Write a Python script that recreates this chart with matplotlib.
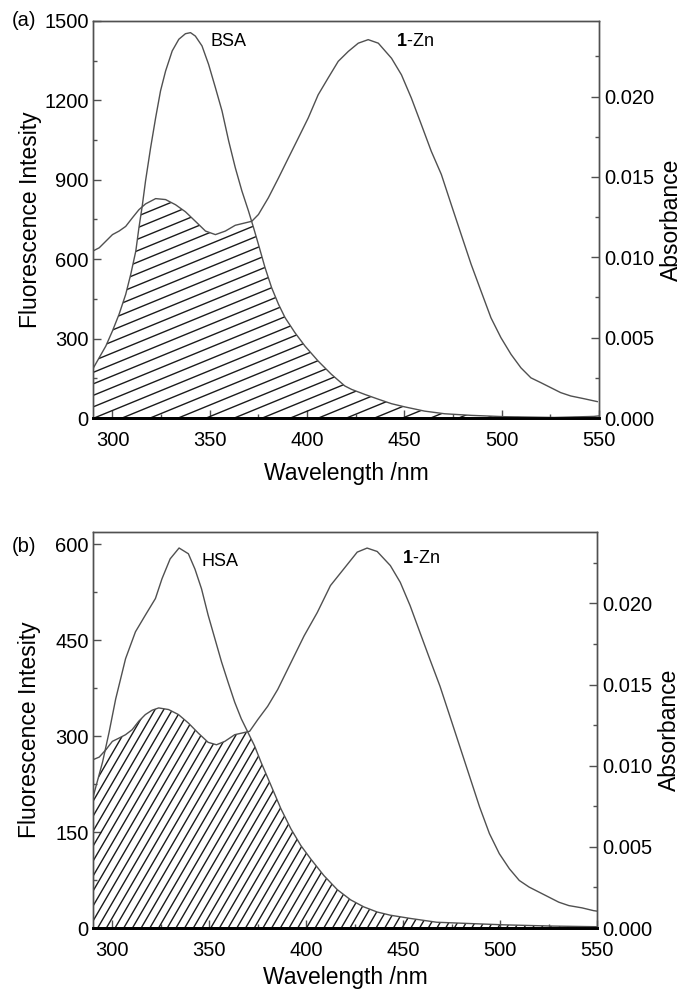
import numpy as np
import matplotlib
matplotlib.use("Agg")
import matplotlib.pyplot as plt
from matplotlib.collections import LineCollection
from matplotlib.ticker import MultipleLocator

plt.rcParams['font.family'] = ['Liberation Sans', 'DejaVu Sans']
plt.rcParams['mathtext.fontset'] = 'custom'
plt.rcParams['mathtext.rm'] = 'Liberation Sans'
plt.rcParams['mathtext.bf'] = 'Liberation Sans:bold'

# ---------------- Panel (a) data ----------------
bsa_wl = [289.8, 293.2, 296.6, 300.0, 303.4, 306.8, 309.4, 312.0, 313.6, 315.3, 317.0,
          319.6, 322.2, 324.7, 327.3, 330.7, 334.1, 337.5, 340.1, 342.6, 346.0, 349.4,
          352.9, 356.3, 359.7, 363.1, 366.5, 369.9, 372.5, 375.0, 378.4, 381.8, 385.3,
          388.7, 393.8, 398.9, 405.7, 412.5, 419.4, 422.9, 429.7, 436.6, 443.4, 450.2,
          460.4, 470.7, 484.3, 501.4, 526.9, 547.4, 550.0]
bsa_fl = [184, 228, 272, 329, 392, 467, 543, 631, 719, 801, 896,
          1021, 1135, 1236, 1311, 1387, 1431, 1452, 1456, 1443, 1406, 1336,
          1248, 1160, 1047, 946, 858, 782, 719, 656, 568, 492, 430,
          379, 322, 272, 215, 165, 121, 108, 89, 71, 54, 42,
          26, 16, 10, 5, 2, 6, 8]

zn_a_wl = [289.8, 293.2, 296.6, 300.0, 303.4, 306.8, 310.2, 313.6, 317.0, 322.2, 327.3,
           332.4, 337.5, 342.6, 347.8, 352.9, 358.0, 363.1, 368.2, 371.6, 375.0, 380.1,
           385.3, 390.4, 395.5, 400.6, 405.7, 410.8, 416.0, 421.2, 426.3, 431.4, 436.6,
           443.4, 448.5, 453.6, 458.7, 463.8, 469.0, 474.1, 479.2, 484.3, 489.4, 494.5,
           499.6, 504.8, 509.9, 515.0, 520.1, 525.2, 530.3, 535.5, 542.3, 549.1]
zn_a_abs = [0.01038, 0.01059, 0.01100, 0.01141, 0.01163, 0.01192, 0.01245, 0.01296,
            0.01332, 0.01365, 0.01359, 0.01327, 0.01283, 0.01224, 0.01163, 0.01141,
            0.01163, 0.01199, 0.01214, 0.01224, 0.01266, 0.01370, 0.01493, 0.01618,
            0.01742, 0.01867, 0.02011, 0.02115, 0.02219, 0.02281, 0.02332, 0.02354,
            0.02332, 0.02238, 0.02135, 0.01990, 0.01826, 0.01660, 0.01515, 0.01327,
            0.01141, 0.00956, 0.00789, 0.00623, 0.00500, 0.00396, 0.00312, 0.00250,
            0.00220, 0.00189, 0.00158, 0.00137, 0.00120, 0.00102]

# ---------------- Panel (b) data ----------------
hsa_wl = [289.8, 294.9, 298.3, 301.7, 306.8, 311.9, 317.0, 322.2, 325.6, 329.8, 334.4,
          339.2, 342.6, 346.0, 349.4, 352.9, 356.3, 359.7, 363.1, 366.5, 369.9, 373.3,
          376.7, 381.8, 387.0, 392.1, 397.2, 402.3, 409.1, 416.0, 422.9, 429.7, 436.6,
          443.4, 453.6, 467.3, 484.3, 501.4, 526.9, 550.0]
hsa_fl = [202, 259, 306, 358, 421, 463, 489, 515, 546, 577, 594,
          585, 561, 530, 489, 452, 416, 384, 353, 327, 306, 285,
          259, 223, 186, 155, 129, 108, 82, 60, 44, 33, 25,
          20, 15, 9, 7, 5, 3, 2]

zn_b_wl = [289.8, 293.2, 296.6, 300.0, 303.4, 306.8, 310.2, 313.6, 317.0, 320.5, 323.9,
           329.0, 334.1, 339.2, 344.3, 349.4, 353.7, 358.0, 363.1, 368.2, 370.8, 375.0,
           380.1, 385.3, 392.1, 398.9, 405.7, 412.5, 419.4, 426.3, 431.4, 436.6, 443.4,
           448.5, 453.6, 458.7, 463.8, 469.0, 474.1, 479.2, 484.3, 489.4, 494.5, 499.6,
           504.8, 509.9, 515.0, 520.1, 525.2, 530.3, 535.5, 542.3, 548.2, 550.0]
zn_b_abs = [0.01036, 0.01053, 0.01098, 0.01150, 0.01170, 0.01191, 0.01222, 0.01274,
            0.01315, 0.01342, 0.01356, 0.01346, 0.01315, 0.01263, 0.01201, 0.01144,
            0.01129, 0.01150, 0.01191, 0.01205, 0.01212, 0.01284, 0.01366, 0.01470,
            0.01635, 0.01800, 0.01944, 0.02110, 0.02213, 0.02316, 0.02341, 0.02320,
            0.02233, 0.02130, 0.01986, 0.01820, 0.01655, 0.01490, 0.01305, 0.01119,
            0.00933, 0.00747, 0.00582, 0.00458, 0.00365, 0.00293, 0.00252, 0.00221,
            0.00190, 0.00159, 0.00138, 0.00124, 0.00107, 0.00104]

x_ticks = [300, 350, 400, 450, 500, 550]
abs_ticks = [0.000, 0.005, 0.010, 0.015, 0.020]
abs_tick_labels = ['0.000', '0.005', '0.010', '0.015', '0.020']

LINE_C = '#505050'

fig = plt.figure(figsize=(6.82, 9.93), dpi=100)


def panel(rect, fl_wl, fl, ab_wl, ab, fl_max, fl_major, ab_max, label, label_y,
          fl_name, fl_txt, zn_txt, hatch_slope, hatch_step, hatch_dir, xlab_pad,
          ylab_pad):
    ax = fig.add_axes(rect)
    ax2 = ax.twinx()
    ax.set_xlim(290, 550)
    ax.set_ylim(0, fl_max)
    ax2.set_ylim(0, ab_max)

    ax.plot(fl_wl, fl, color=LINE_C, lw=1.0, zorder=3)
    ax2.plot(ab_wl, ab, color=LINE_C, lw=1.0, zorder=3)

    # overlap region in left-axis units
    scale = fl_max / ab_max
    grid = np.union1d(fl_wl, ab_wl)
    f_i = np.interp(grid, fl_wl, fl)
    a_i = np.interp(grid, ab_wl, np.asarray(ab) * scale)
    top = np.minimum(f_i, a_i)
    poly = ax.fill_between(grid, 0, top, facecolor='none', edgecolor='none', lw=0)

    # manual hatch lines
    fig.canvas.draw()
    bb = ax.get_window_extent()
    W, H = bb.width, bb.height
    segs = []
    s = hatch_slope
    if hatch_dir == 'shallow':
        c = -s * W
        while c < H:
            segs.append([(0, c / H), (1, (c + s * W) / H)])
            c += hatch_step
    else:
        c = -H / s
        while c < W:
            segs.append([(c / W, 0), ((c + H / s) / W, 1)])
            c += hatch_step
    lc = LineCollection(segs, colors='#1a1a1a', linewidths=1.0,
                        transform=ax.transAxes, zorder=2)
    ax.add_collection(lc)
    lc.set_clip_path(poly.get_paths()[0], poly.get_transform())

    # ticks
    ax.set_xticks(x_ticks)
    ax.xaxis.set_minor_locator(MultipleLocator(25))
    ax.yaxis.set_major_locator(MultipleLocator(fl_major))
    ax.yaxis.set_minor_locator(MultipleLocator(fl_major / 2))
    ax2.set_yticks(abs_ticks)
    ax2.set_yticklabels(abs_tick_labels)
    ax2.yaxis.set_minor_locator(MultipleLocator(0.0025))
    for a in (ax, ax2):
        a.tick_params(which='major', direction='in', length=6, width=1,
                      color=LINE_C, labelsize=14.5, pad=3)
        a.tick_params(which='minor', direction='in', length=3, width=1, color=LINE_C)
    ax.tick_params(axis='x', pad=9)
    ax2.tick_params(axis='y', pad=4)

    for a in (ax, ax2):
        for sp in ('left', 'right', 'top'):
            a.spines[sp].set_color(LINE_C)
            a.spines[sp].set_linewidth(1.0)
        a.spines['bottom'].set_color('black')
        a.spines['bottom'].set_linewidth(2.0)

    ax.set_xlabel('Wavelength /nm', fontsize=16.5, labelpad=xlab_pad)
    ax.set_ylabel('Fluorescence Intesity', fontsize=16.5, labelpad=ylab_pad)
    ax2.set_ylabel('Absorbance', fontsize=16.5, labelpad=3.5)

    ax.text(fl_txt[0], fl_txt[1], fl_name, fontsize=13, ha='center', va='center')
    ax.text(zn_txt[0], zn_txt[1], r'$\mathbf{1}$-Zn', fontsize=13, ha='center',
            va='center')
    fig.text(12 / 682, label_y, label, fontsize=14.5, ha='left', va='center')
    return ax, ax2


panel([93 / 682, 1 - 418 / 993, 506 / 682, 397 / 993], bsa_wl, bsa_fl, zn_a_wl, zn_a_abs,
      1500, 300, 0.0247, '(a)', 1 - 20 / 993, 'BSA', (359.6, 1424), (455.2, 1421),
      0.41, 11.5, 'shallow', 9, 2)

panel([93 / 682, 1 - 928 / 993, 504 / 682, 396 / 993], hsa_wl, hsa_fl, zn_b_wl, zn_b_abs,
      619, 150, 0.0244, '(b)', 1 - 546 / 993, 'HSA', (355.5, 573), (459.3, 577),
      1.72, 8.7, 'steep', 5, 10.5)

fig.savefig('out.png', dpi=100)
